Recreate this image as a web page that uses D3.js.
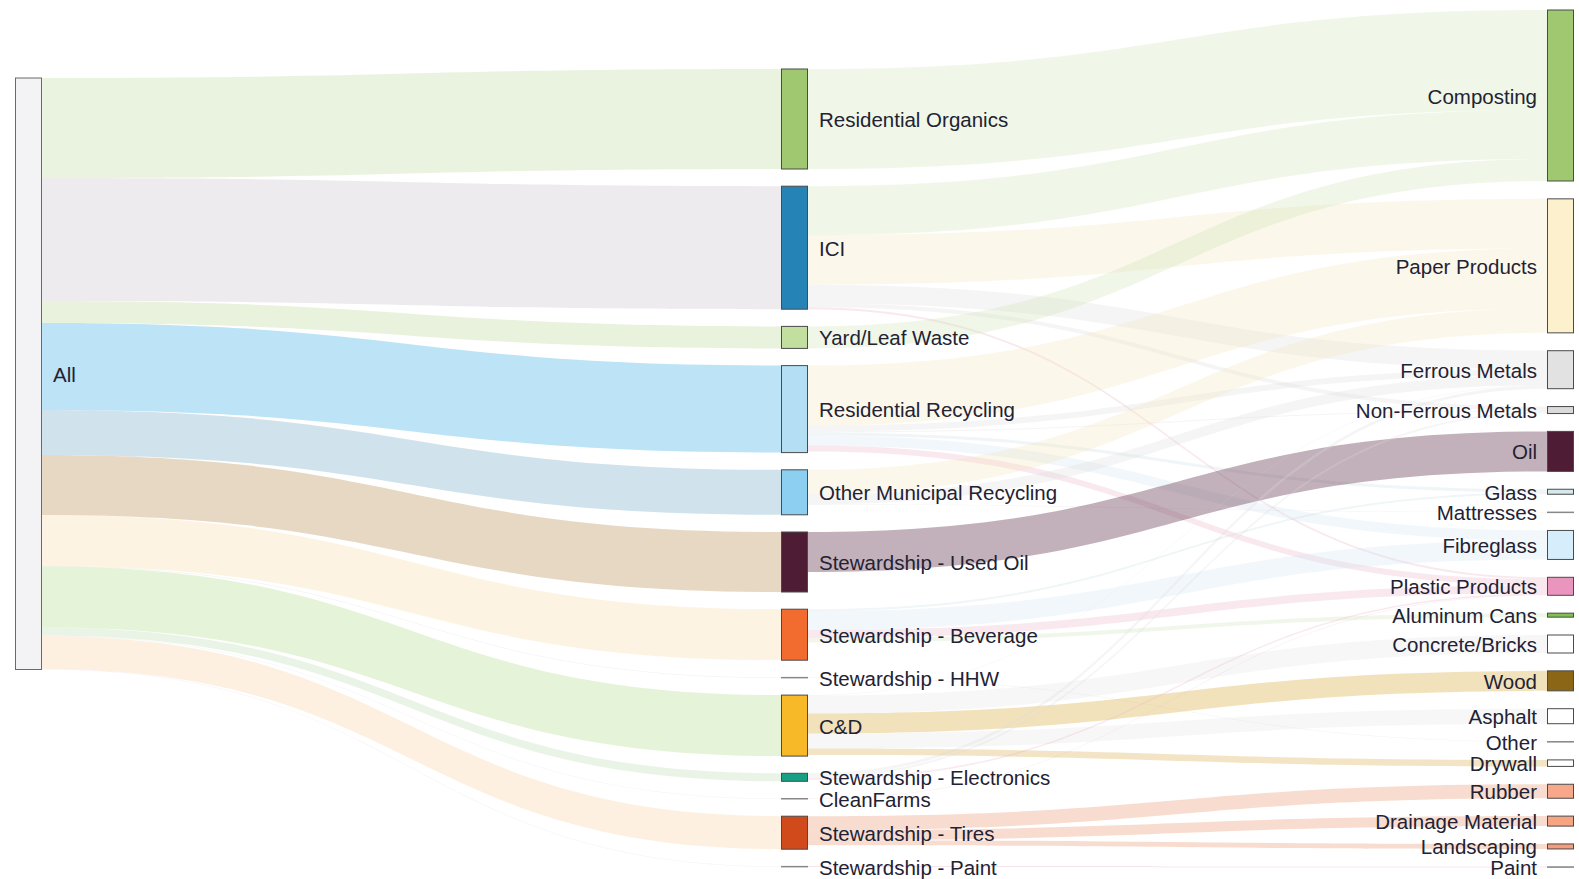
<!DOCTYPE html>
<html>
<head>
<meta charset="utf-8">
<script src="https://cdn.jsdelivr.net/npm/d3@7"></script>
<style>
  html, body { margin: 0; padding: 0; background: #ffffff; }
  svg { display: block; }
</style>
</head>
<body>
<svg id="chart" width="1579" height="879"></svg>
<script>
// ---------------- DATA ----------------
const sourceColumn = ["All"];
const streamColumn = [
  "Residential Organics", "ICI", "Yard/Leaf Waste", "Residential Recycling",
  "Other Municipal Recycling", "Stewardship - Used Oil", "Stewardship - Beverage",
  "Stewardship - HHW", "C&D", "Stewardship - Electronics", "CleanFarms",
  "Stewardship - Tires", "Stewardship - Paint"
];
const materialColumn = [
  "Composting", "Paper Products", "Ferrous Metals", "Non-Ferrous Metals", "Oil",
  "Glass", "Mattresses", "Fibreglass", "Plastic Products", "Aluminum Cans",
  "Concrete/Bricks", "Wood", "Asphalt", "Other", "Drywall", "Rubber",
  "Drainage Material", "Landscaping", "Paint"
];

// flows from "All" into each stream (same order as streamColumn)
const allToStreamValues = [100, 123, 22, 87, 45, 60, 51, 0.5, 61, 8, 0.5, 33, 0.5];

// flows from streams to materials
const flowSource = [
  "Residential Organics", "ICI", "ICI", "ICI", "ICI", "ICI", "Yard/Leaf Waste",
  "Residential Recycling", "Residential Recycling", "Residential Recycling",
  "Residential Recycling", "Residential Recycling", "Residential Recycling",
  "Other Municipal Recycling", "Other Municipal Recycling", "Other Municipal Recycling",
  "Stewardship - Used Oil",
  "Stewardship - Beverage", "Stewardship - Beverage", "Stewardship - Beverage", "Stewardship - Beverage",
  "Stewardship - HHW",
  "C&D", "C&D", "C&D", "C&D", "C&D",
  "Stewardship - Electronics", "Stewardship - Electronics", "Stewardship - Electronics",
  "CleanFarms",
  "Stewardship - Tires", "Stewardship - Tires", "Stewardship - Tires",
  "Stewardship - Paint"
];
const flowTarget = [
  "Composting", "Composting", "Paper Products", "Ferrous Metals", "Non-Ferrous Metals", "Plastic Products", "Composting",
  "Paper Products", "Ferrous Metals", "Non-Ferrous Metals",
  "Glass", "Fibreglass", "Plastic Products",
  "Paper Products", "Ferrous Metals", "Mattresses",
  "Oil",
  "Glass", "Fibreglass", "Plastic Products", "Aluminum Cans",
  "Other",
  "Ferrous Metals", "Concrete/Bricks", "Wood", "Asphalt", "Drywall",
  "Ferrous Metals", "Non-Ferrous Metals", "Plastic Products",
  "Plastic Products",
  "Rubber", "Drainage Material", "Landscaping",
  "Paint"
];
const flowValue = [
  100, 49, 49.5, 18.5, 4, 2, 22,
  60, 6, 1, 3, 10, 6,
  24.5, 10, 0.5,
  40,
  2, 19, 8, 4,
  0.5,
  0.5, 18, 20, 15, 6.5,
  3, 2, 1.5,
  0.5,
  14, 10, 5,
  0.5
];

// ---------------- STYLES ----------------
const nodeFill = {
  "All": "#f3f3f5",
  "Residential Organics": "#9fc870", "ICI": "#2583b5", "Yard/Leaf Waste": "#c3df9f",
  "Residential Recycling": "#b3def4", "Other Municipal Recycling": "#8ccff0",
  "Stewardship - Used Oil": "#4f1c35", "Stewardship - Beverage": "#f26b2f",
  "Stewardship - HHW": "#9a9a9a", "C&D": "#f7b928", "Stewardship - Electronics": "#17a083",
  "CleanFarms": "#4a8aa8", "Stewardship - Tires": "#d14a1c", "Stewardship - Paint": "#7a5a7a",
  "Composting": "#9fc870", "Paper Products": "#fdf0cd", "Ferrous Metals": "#e2e2e2",
  "Non-Ferrous Metals": "#dadada", "Oil": "#4f1c35", "Glass": "#d5e8ee", "Mattresses": "#999999",
  "Fibreglass": "#d6edfb", "Plastic Products": "#ea95bd", "Aluminum Cans": "#80c050",
  "Concrete/Bricks": "#ffffff", "Wood": "#8b6616", "Asphalt": "#ffffff", "Other": "#999999",
  "Drywall": "#ffffff", "Rubber": "#f8a88a", "Drainage Material": "#f6a482",
  "Landscaping": "#f49c7c", "Paint": "#999999"
};
// colour of links coming out of "All", by target stream
const allLinkColor = {
  "Residential Organics": "#cae1af", "ICI": "#d4cdd4", "Yard/Leaf Waste": "#c5dea7",
  "Residential Recycling": "#58b9e8", "Other Municipal Recycling": "#89b6cf",
  "Stewardship - Used Oil": "#c09d69", "Stewardship - Beverage": "#fae1b6",
  "Stewardship - HHW": "#d8d8d8", "C&D": "#bee1a0", "Stewardship - Electronics": "#c8e4c0",
  "CleanFarms": "#d8e0e8", "Stewardship - Tires": "#fad9b1", "Stewardship - Paint": "#e8d8e8"
};
// colour and opacity of links into materials, by target material
const materialLinkColor = {
  "Composting": "#cae1af", "Paper Products": "#f5e2b8", "Ferrous Metals": "#dcdcdc",
  "Non-Ferrous Metals": "#dcdcdc", "Oil": "#663c52", "Glass": "#c8dce4", "Mattresses": "#d0d0d0",
  "Fibreglass": "#d0e4f0", "Plastic Products": "#eab0c4", "Aluminum Cans": "#c8e2b4",
  "Concrete/Bricks": "#e4e4e4", "Wood": "#deb657", "Asphalt": "#e4e4e4", "Other": "#d0d0d0",
  "Drywall": "#debb6e", "Rubber": "#eea787", "Drainage Material": "#eea787",
  "Landscaping": "#eea787", "Paint": "#e39db6"
};
const materialLinkOpacity = {
  "Oil": 0.4, "Wood": 0.4, "Drywall": 0.4, "Rubber": 0.4,
  "Drainage Material": 0.4, "Landscaping": 0.4, "Paint": 0.5
};
const allLinkOpacity = 0.4;
const faintLinkOpacity = 0.28;

// ---------------- LAYOUT ----------------
const columns = [sourceColumn, streamColumn, materialColumn];
const colTop = [78, 69, 10];
const colPad = [0, 17.2, 17.85];
const nodeWidth = 27;
const xScale = d3.scaleLinear().domain([0, 2]).range([15, 1547]);
const hScale = d3.scaleLinear().domain([0, 100]).range([0, 100]);

const nodes = new Map();
columns.forEach((names, ci) => names.forEach((name, i) => {
  nodes.set(name, { name, col: ci, idx: i, inV: 0, outV: 0, ins: [], outs: [] });
}));

const links = [];
streamColumn.forEach((t, i) => links.push({ source: "All", target: t, value: allToStreamValues[i] }));
flowSource.forEach((s, i) => links.push({ source: s, target: flowTarget[i], value: flowValue[i] }));
links.forEach(l => {
  l.s = nodes.get(l.source); l.t = nodes.get(l.target);
  l.s.outV += l.value; l.t.inV += l.value;
  l.s.outs.push(l); l.t.ins.push(l);
});

columns.forEach((names, ci) => {
  let y = colTop[ci];
  names.forEach(name => {
    const n = nodes.get(name);
    n.value = Math.max(n.inV, n.outV);
    n.x0 = xScale(ci); n.x1 = n.x0 + nodeWidth;
    n.y0 = y; n.y1 = y + hScale(n.value);
    y = n.y1 + colPad[ci];
  });
});
nodes.forEach(n => {
  let yo = n.y0;
  n.outs.sort((a, b) => a.t.y0 - b.t.y0).forEach(l => { l.sy0 = yo; yo += hScale(l.value); l.sy1 = yo; });
  let yi = n.y0;
  n.ins.sort((a, b) => a.s.y0 - b.s.y0).forEach(l => { l.ty0 = yi; yi += hScale(l.value); l.ty1 = yi; });
});

function linkPath(l) {
  const x0 = l.s.x1, x1 = l.t.x0, xm = (x0 + x1) / 2;
  return `M${x0},${l.sy0}C${xm},${l.sy0} ${xm},${l.ty0} ${x1},${l.ty0}` +
         `L${x1},${l.ty1}C${xm},${l.ty1} ${xm},${l.sy1} ${x0},${l.sy1}Z`;
}

// ---------------- DRAW ----------------
const svg = d3.select("#chart");
svg.append("rect").attr("width", 1579).attr("height", 879).attr("fill", "#ffffff");

svg.append("g").selectAll("path").data(links).join("path")
  .attr("d", linkPath)
  .attr("fill", l => l.source === "All" ? allLinkColor[l.target] : materialLinkColor[l.target])
  .attr("fill-opacity", l => l.source === "All" ? allLinkOpacity
                              : (materialLinkOpacity[l.target] || faintLinkOpacity));

const nodeList = Array.from(nodes.values());
svg.append("g").selectAll("rect").data(nodeList).join("rect")
  .attr("x", n => n.x0 + 0.5)
  .attr("y", n => n.y0)
  .attr("width", nodeWidth - 1)
  .attr("height", n => Math.max(0.5, n.y1 - n.y0))
  .attr("fill", n => nodeFill[n.name])
  .attr("stroke", n => n.value < 1 ? "#888888" : (n.name === "All" ? "#6a6a6a" : "#4a4a4a"))
  .attr("stroke-width", 1);

svg.append("g")
  .attr("font-family", "'Liberation Sans', Arial, sans-serif")
  .attr("font-size", 20.5)
  .attr("fill", "#222233")
  .selectAll("text").data(nodeList).join("text")
  .attr("x", n => n.col === 2 ? n.x0 - 10 : n.x1 + 11)
  .attr("y", n => (n.y0 + n.y1) / 2 + 0.5)
  .attr("text-anchor", n => n.col === 2 ? "end" : "start")
  .attr("dominant-baseline", "central")
  .text(n => n.name);
</script>
</body>
</html>
